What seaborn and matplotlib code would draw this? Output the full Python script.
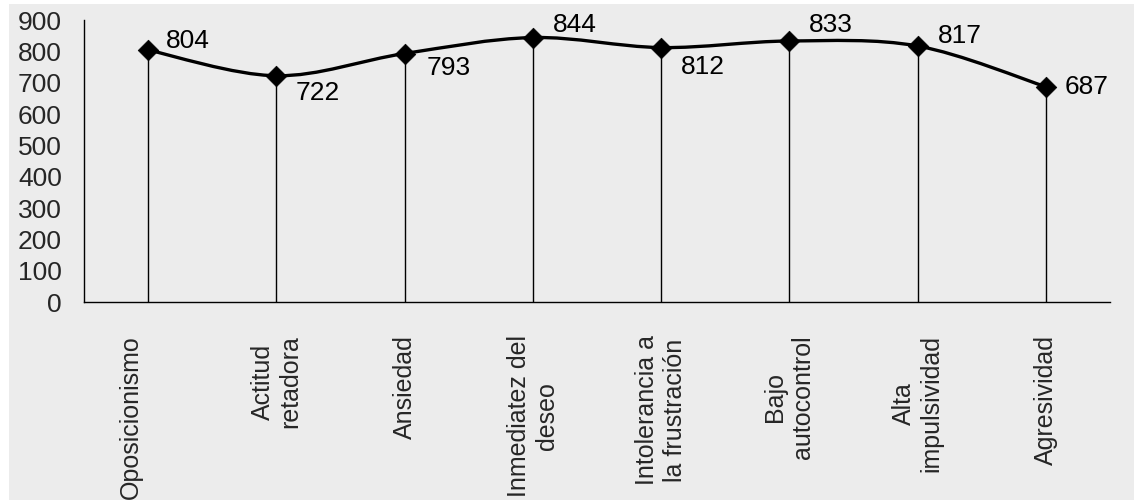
import numpy as np
import pandas as pd
import matplotlib.pyplot as plt
import matplotlib.transforms as mtransforms
from matplotlib.path import Path
from matplotlib.patches import PathPatch, Rectangle
import seaborn as sns

# datos
categories = ["Oposicionismo", "Actitud\nretadora", "Ansiedad", "Inmediatez del\ndeseo",
              "Intolerancia a\nla frustración", "Bajo\nautocontrol", "Alta\nimpulsividad",
              "Agresividad"]
values = [804, 722, 793, 844, 812, 833, 817, 687]
y_ticks = [0, 100, 200, 300, 400, 500, 600, 700, 800, 900]

# desplazamiento de cada etiqueta de valor (pixeles)
label_offsets = [(18, 9), (19, -17), (22, -14), (20, 13), (20, -19), (19, 16), (20, 10), (19, 0)]

sns.set_style("white")
plt.rcParams["font.family"] = ["Liberation Sans", "DejaVu Sans"]

df = pd.DataFrame({"cat": categories, "val": values})
df["pos"] = np.arange(len(df))

fig = plt.figure(figsize=(11.34, 5), dpi=100, facecolor="white")
fig.add_artist(Rectangle((9 / 1134, 0), 1, 496 / 500, transform=fig.transFigure,
                         facecolor="#ececec", edgecolor="none", zorder=-1))
ax = fig.add_axes([84 / 1134, 198 / 500, 1026 / 1134, 282 / 500])
ax.set_facecolor("none")

# lineas verticales hasta el eje
ax.vlines(df["pos"], 0, df["val"], color="black", lw=1, zorder=2)

# curva suavizada (bezier tipo Excel)
x = df["pos"].to_numpy(float)
y = df["val"].to_numpy(float)
n = len(x)
verts = [(x[0], y[0])]
codes = [Path.MOVETO]
for i in range(n - 1):
    a = i - 1 if i > 0 else i
    b = i + 2 if i + 2 < n else i + 1
    c1 = (x[i] + (x[i + 1] - x[a]) / 6, y[i] + (y[i + 1] - y[a]) / 6)
    c2 = (x[i + 1] - (x[b] - x[i]) / 6, y[i + 1] - (y[b] - y[i]) / 6)
    verts += [c1, c2, (x[i + 1], y[i + 1])]
    codes += [Path.CURVE4] * 3
ax.add_patch(PathPatch(Path(verts, codes), facecolor="none", edgecolor="black",
                       lw=2.4, zorder=3))

sns.scatterplot(data=df, x="pos", y="val", marker="D", s=110, color="black",
                edgecolor="black", linewidth=0.5, zorder=4, ax=ax)

for (px, py), (dx, dy) in zip(zip(x, y), label_offsets):
    ax.annotate(f"{int(py)}", (px, py), xytext=(dx, dy), textcoords="offset pixels",
                ha="left", va="center", fontsize=19, color="black")

ax.set_xlim(-0.5, 7.5)
ax.set_ylim(0, 900)
ax.set_yticks(y_ticks)
ax.set_xticks(df["pos"], categories, rotation=90, ha="center", va="top",
              multialignment="center", fontsize=18)
ax.set_xticks(np.arange(-0.5, 8, 1), minor=True)
ax.tick_params(axis="x", which="major", length=0, pad=24)
ax.tick_params(axis="x", which="minor", length=6, width=1, direction="out", color="black")
ax.tick_params(axis="y", length=6, width=1, direction="out", color="black",
               labelsize=19, pad=10)
ax.set_xlabel("")
ax.set_ylabel("")
for s in ["top", "right"]:
    ax.spines[s].set_visible(False)
for s in ["left", "bottom"]:
    ax.spines[s].set_color("black")
    ax.spines[s].set_linewidth(1)

# la primera etiqueta esta algo corrida a la izquierda
lab0 = ax.get_xticklabels()[0]
lab0.set_transform(lab0.get_transform() +
                   mtransforms.ScaledTranslation(-17 / 100, 0, fig.dpi_scale_trans))

fig.savefig("out.png", dpi=100, facecolor="white")
